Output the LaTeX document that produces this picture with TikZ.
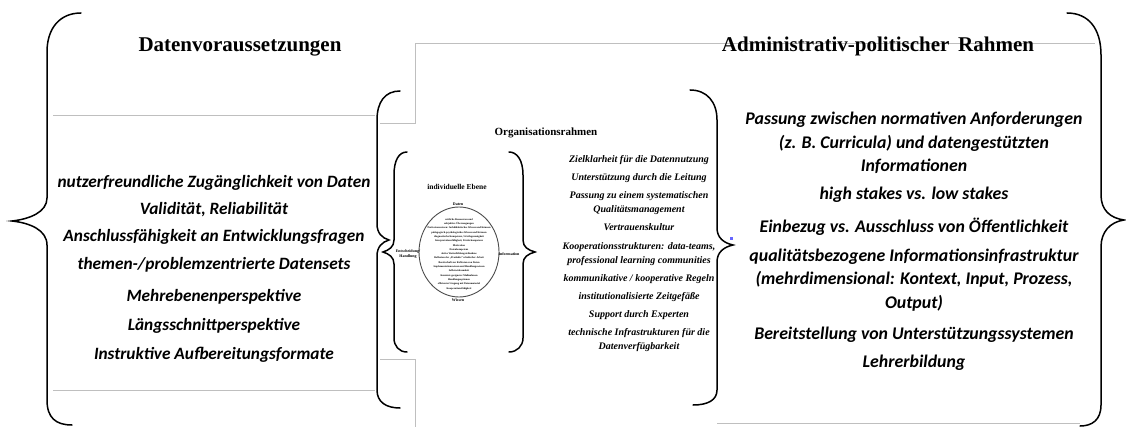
\documentclass[tikz,border=0pt]{standalone}
\usepackage{fontspec}
\setmainfont{Liberation Serif}
\newfontfamily\itemfont{Carlito}
\usetikzlibrary{positioning}

\tikzset{
  curl/.style={line width=1.5pt,line cap=round},
  frame/.style={black!25,line width=0.7pt},
  headline/.style={font=\fontsize{21}{24}\selectfont\bfseries,inner sep=0pt},
  bigitem/.style={font=\itemfont\fontsize{17.3}{23.5}\selectfont\bfseries\itshape,align=center,inner sep=0pt},
  rightitem/.style={bigitem,font=\itemfont\fontsize{17.8}{23.5}\selectfont\bfseries\itshape},
  orgitem/.style={font=\fontsize{10}{14}\selectfont\bfseries\itshape,align=center,inner sep=0pt},
  tinylabel/.style={font=\fontsize{4}{4.5}\selectfont\bfseries,align=center,inner sep=0pt},
}

\begin{document}
\begin{tikzpicture}[x=1pt,y=-1pt]
  \useasboundingbox (0,0) rectangle (1126,427);

  % picture frames
  \draw[frame] (53,115) -- (375,115);
  \draw[frame] (53,390) -- (375,390);
  \draw[frame] (380,123) -- (415,123) -- (415,43) -- (1095,43);
  \draw[frame] (380,359) -- (415,359) -- (415,427);
  \draw[frame] (717,423) -- (1080,423);

  % outer braces
  \draw[curl] (81,13) .. controls (60,13) and (47,28) .. (47,52) -- (47,198)
    .. controls (47,212) and (30,219) .. (12,221) .. controls (30,223) and (47,230) .. (47,245)
    -- (47,400) .. controls (47,418) and (56,425) .. (72,425);
  \draw[curl] (1067,13) .. controls (1088,13) and (1101,28) .. (1101,55) -- (1101,195)
    .. controls (1101,210) and (1110,218) .. (1124,220) .. controls (1110,222) and (1101,232) .. (1101,247)
    -- (1101,405) .. controls (1101,420) and (1092,426) .. (1080,426);

  % Organisationsrahmen braces
  \draw[curl] (400,91) .. controls (385,91) and (377,102) .. (377,120) -- (377,224)
    .. controls (377,233) and (382,238) .. (389,240) .. controls (382,242) and (377,247) .. (377,256)
    -- (377,390) .. controls (377,402) and (386,408) .. (400,408);
  \draw[curl] (690,90) .. controls (707,90) and (717,102) .. (717,120) -- (717,228)
    .. controls (717,238) and (724,243) .. (733,245) .. controls (724,247) and (717,252) .. (717,262)
    -- (717,390) .. controls (717,400) and (708,405) .. (693,405);

  % individuelle Ebene braces
  \draw[curl] (407,152) .. controls (399,152) and (394,160) .. (394,175) -- (394,240)
    .. controls (394,247) and (389,250) .. (383,252) .. controls (389,254) and (394,257) .. (394,264)
    -- (394,338) .. controls (394,346) and (399,352) .. (407,352);
  \draw[curl] (509,152) .. controls (517,152) and (523,160) .. (523,175) -- (523,240)
    .. controls (523,247) and (528,250) .. (535,252) .. controls (528,254) and (523,257) .. (523,264)
    -- (523,338) .. controls (523,346) and (517,352) .. (509,352);

  % titles
  \node[headline] (daten) at (240,47) {Datenvoraussetzungen};
  \node[headline] (admin) at (878,46) {Administrativ-politischer\, Rahmen};
  \node[headline,font=\fontsize{11}{13}\selectfont\bfseries] (orga) at (546,133) {Organisationsrahmen};
  \node[headline,font=\fontsize{7.5}{9}\selectfont\bfseries] (indiv) at (457,187) {individuelle Ebene};

  % Datenvoraussetzungen
  \node[bigitem] (d1) at (214,183) {nutzerfreundliche Zugänglichkeit von Daten};
  \node[bigitem] (d2) at (214,210) {Validität, Reliabilität};
  \node[bigitem] (d3) at (214,237) {Anschlussfähigkeit an Entwicklungsfragen};
  \node[bigitem] (d4) at (214,265) {themen-/problemzentrierte Datensets};
  \node[bigitem] (d5) at (214,297) {Mehrebenenperspektive};
  \node[bigitem] (d6) at (214,326) {Längsschnittperspektive};
  \node[bigitem] (d7) at (214,355) {Instruktive Aufbereitungsformate};

  % Administrativ-politischer Rahmen
  \node[rightitem] (a1) at (914,143) {Passung zwischen normativen Anforderungen\\(z. B. Curricula) und datengestützten\\Informationen};
  \node[rightitem] (a2) at (914,195) {high stakes vs. low stakes};
  \node[rightitem] (a3) at (914,227) {Einbezug vs. Ausschluss von Öffentlichkeit};
  \node[rightitem] (a4) at (914,280) {qualitätsbezogene Informationsinfrastruktur\\(mehrdimensional: Kontext, Input, Prozess,\\Output)};
  \node[rightitem] (a5) at (914,335) {Bereitstellung von Unterstützungssystemen};
  \node[rightitem] (a6) at (914,363) {Lehrerbildung};

  % Organisationsrahmen
  \node[orgitem] (o1) at (639,160) {Zielklarheit für die Datennutzung};
  \node[orgitem] (o2) at (639,178) {Unterstützung durch die Leitung};
  \node[orgitem] (o3) at (639,203) {Passung zu einem systematischen\\Qualitätsmanagement};
  \node[orgitem] (o4) at (639,227) {Vertrauenskultur};
  \node[orgitem] (o5) at (639,254) {Kooperationsstrukturen: data-teams,\\professional learning communities};
  \node[orgitem] (o6) at (639,279) {kommunikative / kooperative Regeln};
  \node[orgitem] (o7) at (639,297) {institutionalisierte Zeitgefäße};
  \node[orgitem] (o8) at (639,315) {Support durch Experten};
  \node[orgitem] (o9) at (639,340) {technische Infrastrukturen für die\\Datenverfügbarkeit};

  % individuelle Ebene: Kreislauf
  \draw[black!70,line width=0.9pt] (459,252) ellipse [x radius=40,y radius=45];
  \node[tinylabel] (daten-k) at (458,204) {Daten};
  \node[tinylabel] (info-k) at (509,254) {Information};
  \node[tinylabel] (wissen-k) at (458,300) {Wissen};
  \node[tinylabel] (handl-k) at (408,254) {Entscheidung/\\Handlung};
  \node[tinylabel,font=\fontsize{2.6}{4.3}\selectfont\bfseries] (faktoren) at (459,254) {zeitliche Ressourcen und\\subjektive Überzeugungen\\Professionswissen: fachdidaktisches Wissen und Können\\pädagogisch-psychologisches Wissen und Können\\diagnostische Kompetenz, Urteilsgenauigkeit\\Interpretationsfähigkeit, Förderkompetenz\\Motivation\\Datenkompetenz\\aktive Weiterbildungsteilnahme\\Reflexion der „Produkte“ schulischer Arbeit\\Bereitschaft zur Reflexion von Daten\\Implementationswissen und Handlungswissen\\Selbstwirksamkeit\\Kenntnis geeigneter Maßnahmen\\Handlungsoptionen\\effizienter Umgang mit Datenmaterial\\Kooperationsfähigkeit};

  % Markierung
  \fill[blue!60] (729.5,237.5) rectangle (732.5,240.5);
\end{tikzpicture}
\end{document}
